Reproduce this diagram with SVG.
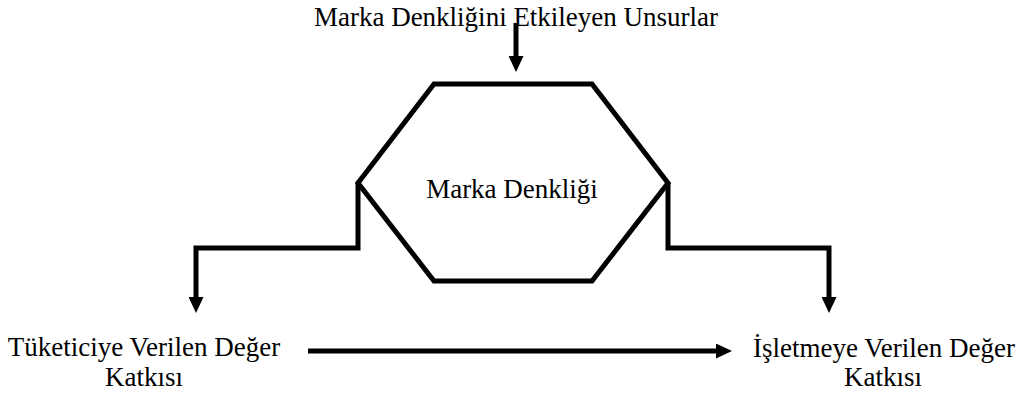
<svg xmlns="http://www.w3.org/2000/svg" width="1023" height="394" viewBox="0 0 1023 394">
  <style>
    text { font-family: "Liberation Serif", "Times New Roman", Times, serif; font-size: 27px; fill: #000; text-anchor: middle; }
    .shape { fill: #fff; stroke: #000; stroke-width: 5; stroke-linejoin: miter; }
    .wire { fill: none; stroke: #000; stroke-width: 5; stroke-linejoin: miter; }
  </style>
  <defs>
    <marker id="head" markerUnits="userSpaceOnUse" markerWidth="16" markerHeight="15" refX="2" refY="7.5" orient="auto">
      <path d="M0,0 L16,7.5 L0,15 Z" fill="#000"/>
    </marker>
  </defs>
  <rect width="1023" height="394" fill="#fff"/>

  <!-- connectors -->
  <g id="connectors">
    <polyline class="wire" points="516,23 516,58" marker-end="url(#head)"/>
    <polyline class="wire" points="358,183 358,248 196,248 196,299" marker-end="url(#head)"/>
    <polyline class="wire" points="668,183 668,248 829,248 829,299" marker-end="url(#head)"/>
    <polyline class="wire" points="308,351 718,351" marker-end="url(#head)"/>
  </g>

  <!-- influencing factors -->
  <g id="factors">
    <text x="516" y="26">Marka Denkliğini Etkileyen Unsurlar</text>
  </g>

  <!-- brand equity hexagon -->
  <g id="brand-equity">
    <polygon class="shape" points="434,84 592,84 668,183 592,281 434,281 358,183"/>
    <text x="512" y="198">Marka Denkliği</text>
  </g>

  <!-- value to the consumer -->
  <g id="consumer-value">
    <text x="144" y="356">Tüketiciye Verilen Değer</text>
    <text x="144" y="386">Katkısı</text>
  </g>

  <!-- value to the firm -->
  <g id="firm-value">
    <text x="884" y="357">İşletmeye Verilen Değer</text>
    <text x="883" y="386">Katkısı</text>
  </g>
</svg>
